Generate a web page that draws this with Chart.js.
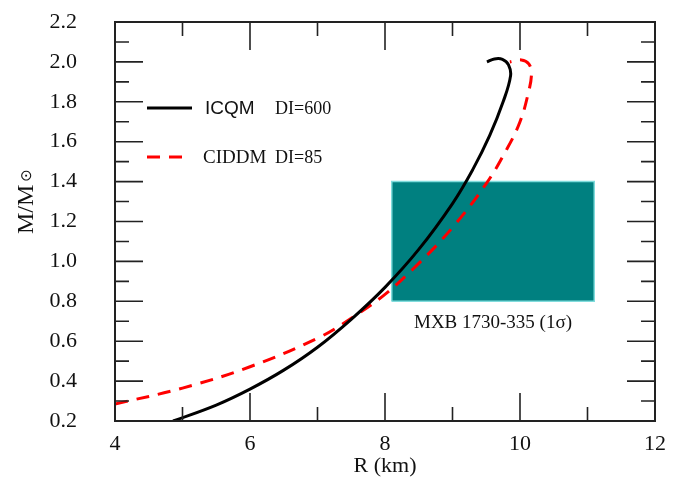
<!DOCTYPE html>
<html>
<head>
<meta charset="utf-8">
<script src="https://cdn.jsdelivr.net/npm/chart.js@4.4.0/dist/chart.umd.min.js"></script>
<style>
  html, body { margin: 0; padding: 0; background: #fff; }
  #wrap { width: 698px; height: 487px; }
</style>
</head>
<body>
<div id="wrap"><canvas id="mr"></canvas></div>
<script>
// ===== DATOS =====
const icqmR = [4.86, 5.5, 6.0, 6.5, 7.0, 7.5, 8.0, 8.5, 9.0, 9.3, 9.55, 9.75, 9.86, 9.83, 9.74, 9.62, 9.51];
const icqmM = [0.20, 0.28, 0.36, 0.455, 0.57, 0.71, 0.87, 1.06, 1.29, 1.46, 1.63, 1.80, 1.93, 1.985, 2.013, 2.015, 2.0];

const ciddmR = [4.0, 5.0, 6.0, 7.0, 7.5, 8.0, 8.5, 9.0, 9.5, 9.8, 10.0, 10.12, 10.17, 10.13, 10.02, 9.85];
const ciddmM = [0.285, 0.365, 0.472, 0.615, 0.715, 0.835, 0.99, 1.17, 1.39, 1.56, 1.70, 1.84, 1.94, 1.99, 2.01, 2.0];

// caja MXB 1730-335 (1 sigma)
const boxR = [8.1, 11.1];
const boxM = [0.8, 1.4];

const xRange = [4, 12];
const yRange = [0.2, 2.2];

const serif = '"Liberation Serif", "Times New Roman", serif';
const sans = '"Liberation Sans", Arial, sans-serif';

const pts = (xs, ys) => xs.map((x, i) => ({ x: x, y: ys[i] }));
const boxPts = [
    { x: boxR[0], y: boxM[0] }, { x: boxR[1], y: boxM[0] },
    { x: boxR[1], y: boxM[1] }, { x: boxR[0], y: boxM[1] }, { x: boxR[0], y: boxM[0] }
];

// ===== MARCO, TICKS HACIA DENTRO, LEYENDA, TEXTOS =====
const framePlugin = {
    id: 'frame',
    afterDraw(chart) {
        const { ctx, chartArea: a, scales: { x, y } } = chart;
        ctx.save();
        ctx.strokeStyle = '#222';
        ctx.lineWidth = 1.6;
        // ticks x (abajo y arriba)
        x.ticks.forEach(t => {
            const px = x.getPixelForValue(t.value);
            const len = (Math.round(t.value) % 2 === 0) ? 28 : 14;
            ctx.beginPath();
            ctx.moveTo(px, a.bottom); ctx.lineTo(px, a.bottom - len);
            ctx.moveTo(px, a.top); ctx.lineTo(px, a.top + len);
            ctx.stroke();
        });
        // ticks y (izquierda y derecha)
        y.ticks.forEach(t => {
            const py = y.getPixelForValue(t.value);
            const len = (Math.round(t.value * 10) % 2 === 0) ? 28 : 14;
            ctx.beginPath();
            ctx.moveTo(a.left, py); ctx.lineTo(a.left + len, py);
            ctx.moveTo(a.right, py); ctx.lineTo(a.right - len, py);
            ctx.stroke();
        });
        ctx.lineWidth = 2;
        ctx.strokeRect(a.left, a.top, a.right - a.left, a.bottom - a.top);

        // leyenda
        const ds = chart.data.datasets;
        const rows = [
            { d: ds[0], y: 108, name: 'ICQM', nameFont: '19px ' + sans, nameX: 205, di: 'DI=600' },
            { d: ds[1], y: 157, name: 'CIDDM', nameFont: '19px ' + serif, nameX: 203, di: 'DI=85' }
        ];
        rows.forEach(r => {
            ctx.strokeStyle = r.d.borderColor;
            ctx.lineWidth = r.d.borderWidth;
            ctx.setLineDash(r.d.borderDash || []);
            ctx.beginPath();
            ctx.moveTo(147, r.y); ctx.lineTo(r.d.borderDash ? 186 : 192, r.y);
            ctx.stroke();
            ctx.setLineDash([]);
            ctx.fillStyle = '#111';
            ctx.textBaseline = 'middle';
            ctx.textAlign = 'left';
            ctx.font = r.nameFont;
            ctx.fillText(r.name, r.nameX, r.y + 1);
            ctx.font = '18px ' + serif;
            ctx.fillText(r.di, 275, r.y + 1);
        });

        // etiqueta de la caja
        const cx = (x.getPixelForValue(boxR[0]) + x.getPixelForValue(boxR[1])) / 2;
        const cy = y.getPixelForValue(boxM[0]) + 22;
        ctx.font = '19px ' + serif;
        ctx.textAlign = 'center';
        ctx.fillText('MXB 1730-335 (1σ)', cx, cy);

        // título eje y: M/M⊙
        ctx.save();
        ctx.translate(33, 234);
        ctx.rotate(-Math.PI / 2);
        ctx.textAlign = 'left';
        ctx.textBaseline = 'alphabetic';
        ctx.font = '24px ' + serif;
        ctx.fillText('M/M', 0, 0);
        const w = ctx.measureText('M/M').width;
        ctx.font = '15px "DejaVu Sans", ' + serif;
        ctx.fillText('⊙', w + 3, -2);
        ctx.restore();
        ctx.restore();
    }
};

new Chart(document.getElementById('mr'), {
    type: 'scatter',
    data: {
        datasets: [
            { label: 'ICQM', data: pts(icqmR, icqmM), showLine: true, borderColor: '#000', borderWidth: 3,
              pointRadius: 0, tension: 0.4, fill: false },
            { label: 'CIDDM', data: pts(ciddmR, ciddmM), showLine: true, borderColor: '#ff0000', borderWidth: 3,
              borderDash: [13, 9], pointRadius: 0, tension: 0.4, fill: false },
            { label: 'MXB', data: boxPts, showLine: true, borderColor: '#80dcdc', borderWidth: 1.5,
              backgroundColor: '#008080', pointRadius: 0, tension: 0, fill: 'shape' }
        ]
    },
    options: {
        responsive: true,
        maintainAspectRatio: false,
        animation: false,
        layout: { padding: { left: 0, top: 22, right: 43, bottom: 0 } },
        plugins: { legend: { display: false }, tooltip: { enabled: false } },
        scales: {
            x: {
                min: xRange[0], max: xRange[1],
                grid: { display: false, drawTicks: false },
                border: { display: false },
                afterFit: s => { s.height = 66; s.paddingLeft = 0; s.paddingRight = 0; },
                ticks: {
                    stepSize: 1, padding: 10, color: '#111', maxRotation: 0, autoSkip: false,
                    font: { family: serif, size: 22 },
                    callback: v => (Math.round(v) % 2 === 0 ? String(v) : '')
                },
                title: { display: true, text: 'R (km)', color: '#111',
                         font: { family: serif, size: 22 }, padding: { top: 0, bottom: 8 } }
            },
            y: {
                min: yRange[0], max: yRange[1],
                grid: { display: false, drawTicks: false },
                border: { display: false },
                afterFit: s => { s.width = 115; s.paddingTop = 0; s.paddingBottom = 0; },
                ticks: {
                    stepSize: 0.1, padding: 38, color: '#111', autoSkip: false,
                    font: { family: serif, size: 22 },
                    callback: v => (Math.round(v * 10) % 2 === 0 ? v.toFixed(1) : '')
                }
            }
        }
    },
    plugins: [framePlugin]
});
</script>
</body>
</html>
